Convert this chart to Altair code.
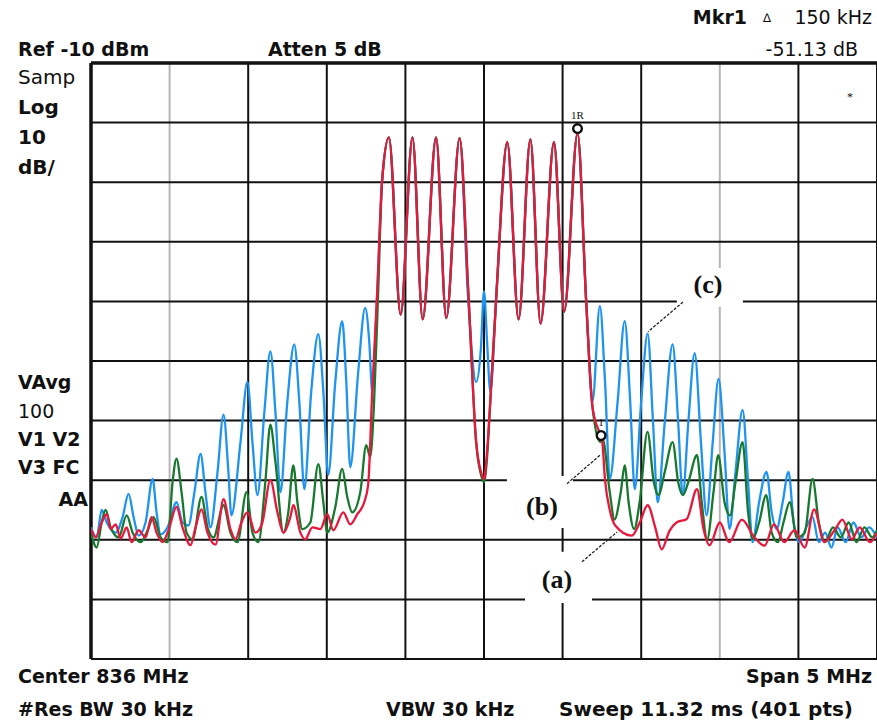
import altair as alt
import pandas as pd

# ---------------- data (frequency offset from 836 MHz in kHz, level in dBm) ----------------
red_f = [-2500, -2470, -2432, -2400, -2375, -2343, -2311, -2273, -2242, -2197,
         -2153, -2115, -2083, -2045, -2007, -1956, -1918, -1867, -1835, -1797,
         -1759, -1708, -1657, -1613, -1581, -1543, -1505, -1454, -1410, -1359,
         -1314, -1276, -1232, -1213, -1168, -1137, -1092, -1041, -997, -959,
         -895, -851, -806, -762, -737, -711, -679, -648, -605, -530,
         -455, -390, -305, -240, -155, -100, -50, -15, 0, 20,
         40, 80, 148, 220, 295, 360, 445, 510, 595, 650,
         690, 735, 750, 770, 800, 835, 940, 991, 1041, 1090,
         1130, 1180, 1225, 1290, 1355, 1395, 1435, 1500, 1560, 1640,
         1720, 1785, 1845, 1910, 1975, 2040, 2100, 2165, 2230, 2280,
         2340, 2390, 2455, 2500]
red_db = [-88.2, -89.6, -87.1, -85.7, -88.2, -87.4, -89.8, -87.9, -90.4, -88.4,
          -89.6, -86.2, -88.8, -90.4, -88.4, -84.5, -87.9, -90.9, -87.9, -84.9,
          -88.8, -90.8, -83.2, -88.2, -89.9, -87.1, -85.4, -88.8, -87.1, -80.0,
          -85.4, -88.8, -86.2, -84.2, -88.8, -89.9, -87.9, -88.2, -85.7, -88.4,
          -85.4, -87.4, -85.7, -83.7, -80.8, -65.1, -48.3, -29.7, -22.5, -52.2,
          -22.5, -53.0, -22.5, -52.8, -22.6, -48.3, -73.6, -79.0, -79.8, -75.0,
          -66.8, -48.3, -23.3, -53.0, -22.8, -53.7, -23.3, -51.7, -21.8, -50.0,
          -67.7, -72.0, -72.9, -80.0, -85.0, -87.6, -89.3, -87.1, -84.2, -88.0,
          -91.6, -88.5, -87.1, -86.5, -81.5, -88.0, -90.9, -87.1, -90.4, -86.6,
          -89.6, -91.0, -87.4, -90.4, -88.4, -91.3, -84.9, -90.4, -88.4, -86.6,
          -89.9, -87.9, -90.4, -88.8]

blue_f = [-2500, -2464, -2432, -2400, -2343, -2299, -2261, -2229, -2197, -2153,
          -2108, -2083, -2057, -2013, -1956, -1918, -1880, -1842, -1803, -1772,
          -1740, -1695, -1657, -1626, -1607, -1549, -1505, -1473, -1441, -1397,
          -1359, -1327, -1295, -1251, -1207, -1175, -1143, -1099, -1054, -1022,
          -991, -946, -902, -876, -851, -800, -756, -730, -711, -679,
          -648, -605, -530, -455, -390, -305, -240, -155, -100, -50,
          -20, 0, 20, 40, 80, 148, 220, 295, 360, 445,
          510, 595, 650, 690, 737, 770, 800, 850, 895, 930,
          959, 1000, 1041, 1075, 1105, 1150, 1200, 1235, 1264, 1300,
          1340, 1380, 1416, 1455, 1492, 1530, 1562, 1600, 1645, 1680,
          1708, 1750, 1797, 1830, 1861, 1900, 1937, 1970, 2007, 2050,
          2090, 2130, 2170, 2210, 2250, 2300, 2350, 2400, 2450, 2500]
blue_db = [-87.9, -89.6, -85.0, -87.1, -88.8, -86.2, -82.3, -86.2, -89.3, -87.1,
           -79.8, -85.4, -89.1, -87.9, -83.7, -87.1, -87.6, -82.0, -75.6, -82.0,
           -87.9, -78.6, -69.0, -78.6, -85.9, -73.6, -63.5, -73.6, -82.5, -68.5,
           -58.4, -68.5, -82.0, -66.8, -57.2, -66.8, -81.5, -65.1, -55.5, -65.1,
           -79.1, -63.5, -53.3, -63.5, -77.8, -61.8, -51.1, -56.7, -65.1, -48.3,
           -29.7, -22.5, -52.2, -22.5, -53.0, -22.5, -52.8, -22.6, -50.0, -63.5,
           -58.0, -48.3, -57.0, -65.1, -48.3, -23.3, -53.0, -22.8, -53.7, -23.3,
           -51.7, -21.8, -50.0, -66.8, -50.8, -63.5, -79.8, -66.8, -53.3, -66.8,
           -81.5, -66.8, -55.4, -70.2, -83.7, -70.2, -57.2, -70.2, -82.5, -70.2,
           -58.7, -73.6, -85.9, -73.6, -63.0, -75.3, -88.2, -78.6, -68.2, -80.3,
           -90.4, -83.7, -78.6, -85.4, -88.2, -83.7, -78.6, -87.1, -90.4, -87.9,
           -86.2, -90.4, -88.8, -91.3, -87.9, -90.4, -87.1, -89.6, -87.9, -89.6]

green_f = [-2500, -2464, -2432, -2407, -2375, -2324, -2273, -2235, -2184, -2140,
           -2102, -2057, -2013, -1981, -1956, -1924, -1892, -1854, -1797, -1759,
           -1721, -1657, -1613, -1568, -1511, -1473, -1435, -1391, -1359, -1327,
           -1276, -1245, -1213, -1187, -1156, -1105, -1054, -1022, -997, -946,
           -902, -870, -838, -787, -749, -724, -699, -673, -648, -605,
           -530, -455, -390, -305, -240, -155, -100, -50, -15, 0,
           20, 40, 80, 148, 220, 295, 360, 445, 510, 595,
           650, 690, 740, 755, 800, 830, 870, 895, 920, 955,
           990, 1040, 1080, 1110, 1150, 1200, 1235, 1265, 1300, 1355,
           1385, 1420, 1460, 1490, 1530, 1565, 1600, 1645, 1680, 1710,
           1750, 1795, 1830, 1870, 1905, 1945, 1990, 2040, 2090, 2130,
           2170, 2220, 2270, 2320, 2370, 2420, 2470, 2500]
green_db = [-88.8, -91.3, -87.1, -85.0, -87.9, -89.6, -85.9, -88.8, -90.4, -88.4,
            -86.2, -89.6, -90.4, -80.3, -76.4, -82.0, -88.8, -89.9, -82.8, -87.9,
            -89.6, -84.2, -88.8, -90.4, -82.0, -88.8, -90.4, -80.3, -70.7, -76.9,
            -88.8, -85.4, -77.5, -83.7, -88.2, -87.1, -77.3, -83.7, -88.8, -84.5,
            -78.1, -82.8, -85.4, -82.0, -74.1, -76.1, -66.8, -48.3, -29.7, -22.5,
            -52.2, -22.5, -53.0, -22.5, -52.8, -22.6, -48.3, -73.6, -79.5, -80.3,
            -76.0, -66.8, -48.3, -23.3, -53.0, -22.8, -53.7, -23.3, -51.7, -21.8,
            -50.0, -67.7, -73.6, -73.1, -82.0, -86.6, -82.0, -77.5, -83.7, -88.2,
            -83.7, -71.9, -80.3, -82.5, -78.6, -73.6, -80.3, -82.5, -80.3, -75.8,
            -83.7, -89.9, -82.0, -75.8, -83.7, -85.9, -80.3, -73.6, -85.4, -89.9,
            -87.1, -82.5, -88.8, -90.4, -87.1, -83.7, -89.6, -88.8, -79.8, -87.1,
            -90.4, -87.9, -89.6, -87.1, -90.4, -87.9, -89.6, -88.4]

# graticule (10 divisions each way)
grid_f_black = [-2500, -1500, -1000, -500, 0, 500, 1000, 2000, 2500]
grid_f_gray = [-2000, 1500]
grid_db = [-110, -100, -90, -80, -70, -60, -50, -40, -30, -20, -10]
frame_f = [-2500]
frame_db = [-10]

# markers
marker_f = [595, 745]
marker_db = [-21.0, -72.5]
marker_label = ["1R", "1"]

# trace annotations (a), (b), (c)
note_text = ["(a)", "(b)", "(c)"]
note_f = [464, 369, 1425]
note_db = [-96.7, -84.5, -47.2]
leader_f1 = [623, 528, 1266]
leader_db1 = [-93.7, -80.6, -50.1]
leader_f2 = [846, 738, 1043]
leader_db2 = [-88.7, -75.8, -55.1]
box_f1 = [261, 146, 1227]
box_f2 = [687, 566, 1647]
box_db1 = [-100.6, -88.0, -50.9]
box_db2 = [-92.0, -79.3, -44.4]

star_f = [2328]
star_db = [-15.7]

RED = "#e8173c"
GREEN = "#17782e"
BLUE = "#1f93f0"

W, H = 786, 596
xs = alt.Scale(domain=[-2500, 2500], nice=False, zero=False)
ys = alt.Scale(domain=[-110, -10], nice=False, zero=False)


def fx(name="f"):
    return alt.X(f"{name}:Q", scale=xs, axis=None)


def fy(name="db"):
    return alt.Y(f"{name}:Q", scale=ys, axis=None)


layers = []

layers.append(alt.Chart(pd.DataFrame({"f": grid_f_gray})).mark_rule(
    color="#b9b4b8", strokeWidth=2).encode(x=fx()))
layers.append(alt.Chart(pd.DataFrame({"f": grid_f_black})).mark_rule(
    color="#111111", strokeWidth=2).encode(x=fx()))
layers.append(alt.Chart(pd.DataFrame({"db": grid_db})).mark_rule(
    color="#111111", strokeWidth=2).encode(y=fy()))
layers.append(alt.Chart(pd.DataFrame({"f": frame_f})).mark_rule(
    color="#111111", strokeWidth=3.5).encode(x=fx()))
layers.append(alt.Chart(pd.DataFrame({"db": frame_db})).mark_rule(
    color="#111111", strokeWidth=3.5).encode(y=fy()))

# white label boxes breaking the graticule
layers.append(alt.Chart(pd.DataFrame({"f1": box_f1, "f2": box_f2, "d1": box_db1, "d2": box_db2}))
              .mark_rect(color="white").encode(x=fx("f1"), x2="f2:Q", y=fy("d1"), y2="d2:Q"))

for fl, dl, col in [(blue_f, blue_db, BLUE), (green_f, green_db, GREEN), (red_f, red_db, RED)]:
    df = pd.DataFrame({"f": fl, "db": dl, "i": list(range(len(fl)))})
    layers.append(alt.Chart(df).mark_line(color=col, strokeWidth=2.3, clip=True,
                                          interpolate="monotone").encode(
        x=fx(), y=fy(), order="i:Q"))

# leader lines
layers.append(alt.Chart(pd.DataFrame({"f1": leader_f1, "f2": leader_f2, "d1": leader_db1, "d2": leader_db2}))
              .mark_rule(color="#222222", strokeWidth=1.3, strokeDash=[3, 1.5])
              .encode(x=fx("f1"), x2="f2:Q", y=fy("d1"), y2="d2:Q"))

# note labels
layers.append(alt.Chart(pd.DataFrame({"f": note_f, "db": note_db, "t": note_text}))
              .mark_text(font="Liberation Serif", fontWeight="bold", fontSize=26, color="#111111")
              .encode(x=fx(), y=fy(), text="t:N"))

# markers
mk = pd.DataFrame({"f": marker_f, "db": marker_db, "t": marker_label})
layers.append(alt.Chart(mk).mark_point(shape="circle", filled=True, fill="white", stroke="#111111",
                                       strokeWidth=2.4, size=75, opacity=1).encode(x=fx(), y=fy()))
layers.append(alt.Chart(mk).mark_text(font="Liberation Serif", fontSize=11, dy=-13, color="#111111")
              .encode(x=fx(), y=fy(), text="t:N"))
layers.append(alt.Chart(pd.DataFrame({"f": star_f, "db": star_db, "t": ["*"]}))
              .mark_text(font="Liberation Serif", fontSize=12, color="#111111")
              .encode(x=fx(), y=fy(), text="t:N"))

# instrument annotation texts around the graticule (pixel positions relative to plot area)
FONT = "DejaVu Sans"


def label(s, x, y, bold=True, align="left", size=19):
    return alt.Chart(pd.DataFrame({"t": [s]})).mark_text(
        font=FONT, fontSize=size, fontWeight="bold" if bold else "normal",
        align=align, baseline="middle", color="#111111"
    ).encode(x=alt.value(x), y=alt.value(y), text="t:N")


layers += [
    label("Mkr1", 656, -45, align="right"),
    label("\u2206", 676, -45, bold=False, align="center", size=12),
    label("150 kHz", 781, -45, bold=False, align="right"),
    label("Ref -10 dBm", -73, -13),
    label("Atten 5 dB", 177, -13),
    label("-51.13 dB", 767, -13, bold=False, align="right"),
    label("Samp", -73, 15, bold=False, size=20),
    label("Log", -73, 45, size=20),
    label("10", -73, 75, size=20),
    label("dB/", -73, 105, size=20),
    label("VAvg", -73, 320),
    label("100", -73, 349, bold=False),
    label("V1 V2", -73, 377),
    label("V3 FC", -73, 405),
    label("AA", -3, 437, align="right"),
    label("Center 836 MHz", -73, 614),
    label("Span 5 MHz", 781, 614, align="right"),
    label("#Res BW 30 kHz", -73, 647),
    label("VBW 30 kHz", 295, 647),
    label("Sweep 11.32 ms (401 pts)", 468, 647, size=20),
]

chart = alt.layer(*layers).properties(
    width=W, height=H,
    padding={"left": 91, "top": 63, "right": 0, "bottom": 64},
    autosize=alt.AutoSizeParams(type="none"),
    background="white",
).configure_view(stroke=None)

chart.save("out.html", embed_options={"renderer": "svg", "actions": False})
